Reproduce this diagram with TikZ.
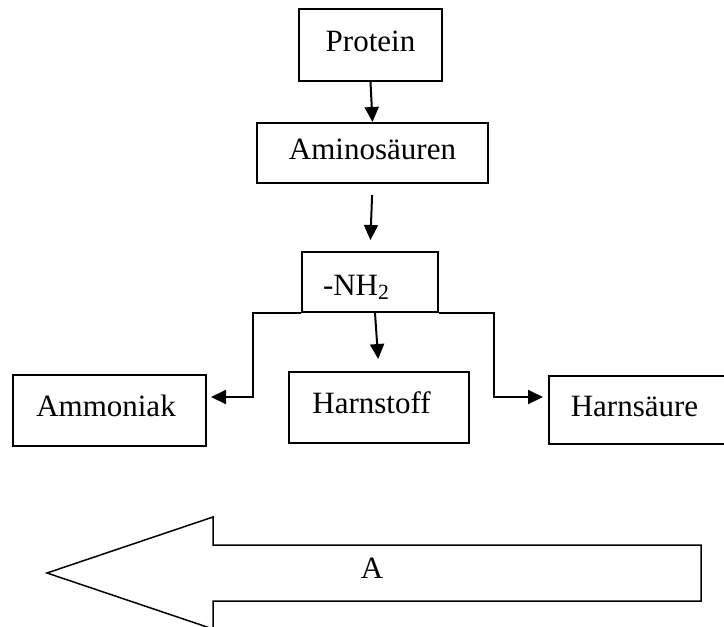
\documentclass[tikz,border=0pt]{standalone}
\usepackage{fontspec}
\setmainfont{Liberation Serif}
\usetikzlibrary{arrows.meta}

\begin{document}
\begin{tikzpicture}[x=0.5pt, y=-0.5pt,
    box/.style={draw, line width=1pt, inner sep=0pt, text height=11pt, text depth=5pt,
                font=\fontsize{15.5}{18}\selectfont},
    arrow/.style={-{Triangle[length=7.5pt, width=7pt]}, line width=1pt}]
                \useasboundingbox (0,0) rectangle (724,627);
                \clip (0,0) rectangle (724,627);
                \node[box, minimum width=71.5pt, minimum height=36pt] (protein) at (370.5,45) {Protein};
                \node[box, minimum width=115.5pt, minimum height=30pt] (amino) at (372.5,153) {Aminosäuren};
                \node[box, minimum width=68pt, minimum height=30pt, text height=18pt] (nh2) at (370,282) {-NH\textsubscript{2}\hspace*{13.5pt}};
                \node[box, minimum width=96.5pt, minimum height=35.5pt] (ammoniak) at (109.5,410.5) {Ammoniak\hspace*{3.5pt}};
                \node[box, minimum width=90pt, minimum height=35.5pt] (harnstoff) at (379,407.5) {Harnstoff\hspace*{7.5pt}};
                \node[box, minimum width=110pt, minimum height=34pt] (harnsaeure) at (659,410) {Harnsäure\hspace*{24.5pt}};
                \draw[arrow] (protein.south) -- (amino.north);
                \draw[arrow, shorten <=5.5pt, shorten >=5.5pt] (amino.south) -- (nh2.north);
                \draw[arrow, shorten >=6pt] ([xshift=2.5pt]nh2.south) -- (harnstoff.north);
                \draw[arrow, shorten >=2pt] (nh2.south west) -- ++(-24pt,0) |- ([yshift=6.75pt]ammoniak.east);
                \draw[arrow, shorten >=2.5pt] (nh2.south east) -- ++(27.5pt,0) |- ([yshift=6.5pt]harnsaeure.west);
                % big arrow pointing left
                \draw[line width=0.75pt, line join=miter] (701,545) -- (213,545) -- (213,517) -- (47,573)
                    -- (213,629) -- (213,601) -- (701,601) -- cycle;
                \node[font=\fontsize{15.5}{18}\selectfont, inner sep=0pt] (alabel) at (372,568.5) {A};
            \end{tikzpicture}
\end{document}
